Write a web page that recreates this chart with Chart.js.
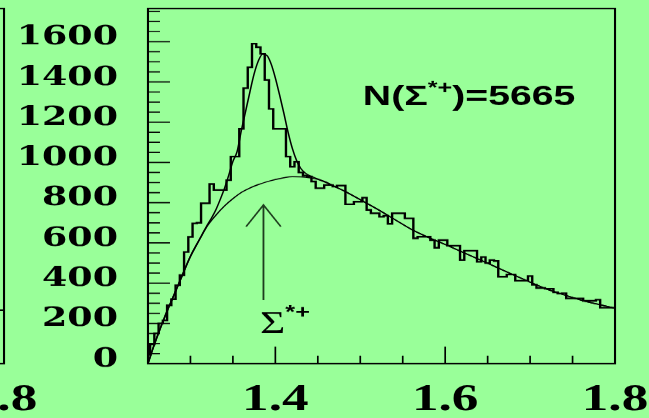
<!DOCTYPE html>
<html>
<head>
<meta charset="utf-8">
<script src="https://cdn.jsdelivr.net/npm/chart.js@4.4.1/dist/chart.umd.min.js"></script>
<style>
  html, body { margin: 0; padding: 0; background: #99ff99; overflow: hidden; }
  #wrap { position: relative; width: 649px; height: 418px; overflow: hidden; }
  canvas { position: absolute; top: 0; }
</style>
</head>
<body>
<div id="wrap">
  <canvas id="prev" width="464" height="418" style="left:-611px;width:649px;height:418px"></canvas>
  <canvas id="chart" width="464" height="418" style="left:0;width:649px;height:418px"></canvas>
</div>
<script>
// invariant mass histogram, 5 MeV bins
const BIN_LO = 1.2525;
const BIN_W = 0.005;
const counts = [
  40, 95, 150, 200, 215, 290, 320, 390, 440, 555,
  630, 697, 700, 797, 797, 893, 863, 863, 863, 912,
  1029, 1029, 1167, 1369, 1473, 1590, 1573, 1540, 1410, 1266,
  1167, 1167, 1167, 1029, 979, 1004, 950, 935, 930, 905,
  872, 872, 888, 888, 880, 885, 885, 792, 792, 805,
  805, 825, 764, 747, 747, 730, 735, 695, 747, 747,
  747, 722, 722, 623, 631, 631, 631, 614, 576, 614,
  614, 586, 586, 586, 515, 561, 561, 561, 506, 530,
  500, 515, 510, 432, 432, 443, 443, 412, 412, 412,
  435, 392, 376, 376, 372, 372, 355, 348, 350, 324,
  324, 324, 324, 312, 312, 312, 318, 278, 278, 278
];

// fit: signal + background
const fitX = [1.25, 1.255, 1.26, 1.27, 1.28, 1.29, 1.30, 1.31, 1.32, 1.325, 1.33, 1.335, 1.34, 1.345,
  1.35, 1.355, 1.36, 1.365, 1.37, 1.375, 1.38, 1.385, 1.39, 1.395, 1.40, 1.405, 1.41, 1.415,
  1.42, 1.425, 1.43, 1.435, 1.44, 1.45, 1.46, 1.47, 1.48, 1.49, 1.50, 1.52, 1.54, 1.56, 1.58,
  1.60, 1.62, 1.64, 1.66, 1.68, 1.70, 1.72, 1.74, 1.76, 1.78, 1.80];
const fitY = [0, 65, 125, 235, 335, 435, 533, 612, 690, 725, 765, 815, 870, 935,
  1005, 1055, 1160, 1255, 1350, 1440, 1505, 1538, 1532, 1490, 1420, 1335, 1245, 1150,
  1070, 1010, 970, 948, 935, 918, 902, 880, 860, 838, 815, 768, 718, 668, 628,
  592, 555, 518, 480, 442, 405, 370, 342, 316, 295, 275];

// background only
const bgX = [1.25, 1.255, 1.26, 1.27, 1.28, 1.29, 1.30, 1.31, 1.32, 1.33, 1.34, 1.35, 1.36, 1.37,
  1.38, 1.39, 1.40, 1.41, 1.42, 1.43, 1.44, 1.45, 1.46, 1.47, 1.48, 1.49, 1.50, 1.52, 1.54,
  1.56, 1.58, 1.60, 1.62, 1.64, 1.66, 1.68, 1.70, 1.72, 1.74, 1.76, 1.78, 1.80];
const bgY = [0, 65, 125, 235, 335, 435, 533, 612, 685, 738, 783, 820, 851, 873,
  890, 904, 915, 924, 929, 928, 924, 916, 900, 880, 860, 838, 815, 768, 718,
  668, 628, 592, 555, 518, 480, 442, 405, 370, 342, 316, 295, 275];

// the right end of the neighbouring panel
const prevEdges = [1.79, 1.796, 1.8];
const prevCounts = [0, 266, 266];

const xLabels = [1.4, 1.6, 1.8];
const yLabels = [0, 200, 400, 600, 800, 1000, 1200, 1400, 1600];
const nSignal = 5665;

// annotation anchors, in data units
const arrowAt = 1.386, arrowTip = 789, arrowBase = 316;
const sigmaAt = [1.382, 152];
const countAt = [1.503, 1286];

// the picture is stretched sideways: draw 464 px wide, show it 649 px wide
const SX = 1.4;

function steps(from, to, step) {
  const out = [];
  for (let v = from; v <= to + step / 2; v += step) out.push(Math.round(v * 10000) / 10000);
  return out;
}

function histPoints(edges, vals) {
  return edges.map((x, i) => ({ x, y: vals[Math.min(i, vals.length - 1)] }));
}

const mainEdges = steps(BIN_LO, BIN_LO + counts.length * BIN_W, BIN_W);

const frame = {
  id: 'frame',
  afterDraw(chart) {
    const { ctx, chartArea: a, scales: { x, y } } = chart;
    ctx.save();
    ctx.strokeStyle = '#000';
    ctx.lineWidth = 1.5;
    ctx.strokeRect(a.left, a.top, a.right - a.left, a.bottom - a.top);
    ctx.lineWidth = 1.2;
    ctx.beginPath();
    x.ticks.forEach(t => {
      const px = x.getPixelForValue(t.value);
      const len = t.label ? 17 : 8;
      ctx.moveTo(px, a.bottom);
      ctx.lineTo(px, a.bottom - len);
    });
    y.ticks.forEach(t => {
      const py = y.getPixelForValue(t.value);
      const len = (t.label ? 22 : 12) / SX;
      ctx.moveTo(a.left, py);
      ctx.lineTo(a.left + len, py);
    });
    ctx.stroke();
    ctx.restore();
  }
};

function supText(ctx, x, base, main, sup, mainFont, supFont, rise) {
  ctx.font = mainFont;
  ctx.fillText(main[0], x, base);
  x += ctx.measureText(main[0]).width;
  ctx.font = supFont;
  ctx.fillText(sup, x, base - rise);
  x += ctx.measureText(sup).width;
  if (main[1]) {
    ctx.font = mainFont;
    ctx.fillText(main[1], x, base);
  }
}

const notes = {
  id: 'notes',
  afterDatasetsDraw(chart) {
    const { ctx, scales: { x, y } } = chart;
    ctx.save();
    // arrow pointing at the signal
    const ax = x.getPixelForValue(arrowAt);
    const tip = y.getPixelForValue(arrowTip);
    const base = y.getPixelForValue(arrowBase);
    ctx.strokeStyle = '#1e3d1e';
    ctx.lineWidth = 1.3;
    ctx.beginPath();
    ctx.moveTo(ax, base);
    ctx.lineTo(ax, tip);
    ctx.moveTo(ax - 12.4, tip + 21.7);
    ctx.lineTo(ax, tip);
    ctx.lineTo(ax + 12.4, tip + 21.7);
    ctx.stroke();

    ctx.fillStyle = '#000';
    ctx.textBaseline = 'alphabetic';
    ctx.textAlign = 'left';
    supText(ctx, x.getPixelForValue(sigmaAt[0]), y.getPixelForValue(sigmaAt[1]),
      ['\u03A3'], '*+', '31px "Liberation Serif"', 'bold 18px "Liberation Sans"', 15);
    supText(ctx, x.getPixelForValue(countAt[0]), y.getPixelForValue(countAt[1]),
      ['N(\u03A3', ')=' + nSignal], '*+', 'bold 28px "Liberation Sans"', 'bold 18px "Liberation Sans"', 11);
    ctx.restore();
  }
};

function options() {
  return {
    responsive: false,
    animation: false,
    devicePixelRatio: SX,
    layout: { padding: { top: 8.5, right: 24.7, left: 0, bottom: 0 } },
    plugins: { legend: { display: false }, tooltip: { enabled: false } },
    elements: { point: { radius: 0 } },
    scales: {
      x: {
        type: 'linear',
        min: 1.25,
        max: 1.8,
        grid: { display: false, drawTicks: false },
        border: { display: false },
        afterBuildTicks: s => { s.ticks = steps(1.25, 1.8, 0.05).map(v => ({ value: v })); },
        afterFit: s => { s.height = 54.5; s.paddingLeft = 0; s.paddingRight = 0; },
        ticks: {
          autoSkip: false,
          maxRotation: 0,
          padding: 14,
          color: '#000',
          font: { family: 'Liberation Serif', weight: 'bold', size: 38 },
          callback: v => xLabels.some(l => Math.abs(l - v) < 1e-6) ? v.toFixed(1) : ''
        }
      },
      y: {
        min: 0,
        max: 1765,
        grid: { display: false, drawTicks: false },
        border: { display: false },
        afterBuildTicks: s => { s.ticks = steps(0, 1750, 50).map(v => ({ value: v })); },
        afterFit: s => { s.width = 105.7; s.paddingTop = 0; s.paddingBottom = 0; },
        ticks: {
          autoSkip: false,
          padding: 21.4,
          labelOffset: -4,
          color: '#000',
          font: { family: 'DejaVu Serif', weight: 'bold', size: 26 },
          callback: v => yLabels.includes(v) ? String(v) : ''
        }
      }
    }
  };
}

new Chart(document.getElementById('prev'), {
  type: 'line',
  data: {
    datasets: [
      { data: histPoints(prevEdges, prevCounts), stepped: 'after', borderColor: '#000', borderWidth: 1.6, fill: false }
    ]
  },
  options: options(),
  plugins: [frame]
});

new Chart(document.getElementById('chart'), {
  type: 'line',
  data: {
    datasets: [
      { data: histPoints(mainEdges, counts), stepped: 'after', borderColor: '#000', borderWidth: 1.7, fill: false },
      { data: fitX.map((x, i) => ({ x, y: fitY[i] })), borderColor: '#000', borderWidth: 1.1,
        cubicInterpolationMode: 'monotone', fill: false },
      { data: bgX.map((x, i) => ({ x, y: bgY[i] })), borderColor: '#000', borderWidth: 1.1,
        cubicInterpolationMode: 'monotone', fill: false }
    ]
  },
  options: options(),
  plugins: [frame, notes]
});
</script>
</body>
</html>
